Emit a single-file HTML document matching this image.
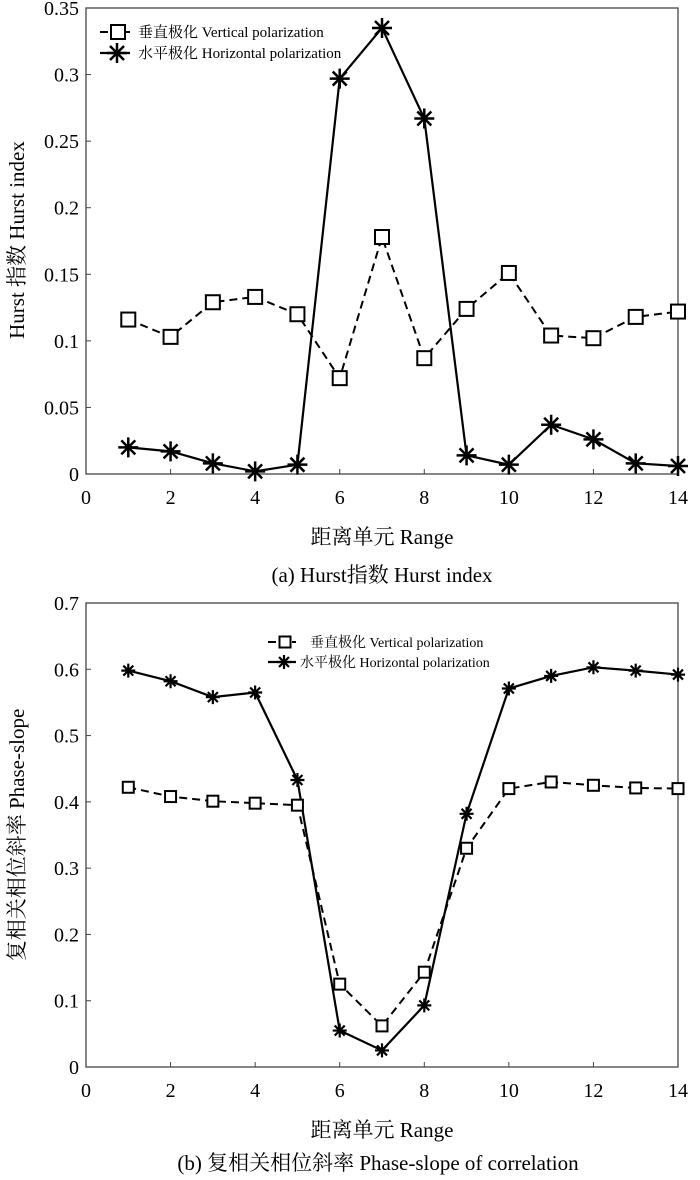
<!DOCTYPE html>
<html><head><meta charset="utf-8"><style>
body{margin:0;background:#fff}
text{font-family:"Liberation Serif","Noto Serif CJK SC",serif;fill:#000}
</style></head><body>
<svg width="700" height="1175" viewBox="0 0 700 1175" xmlns="http://www.w3.org/2000/svg">
<defs>
<g id="st"><path d="M-10 0H10M0-10V10M-7-7L7 7M-7 7L7-7" stroke="#000" stroke-width="2.5"/></g>
<g id="sts"><path d="M-7 0H7M0-7V7M-5-5L5 5M-5 5L5-5" stroke="#000" stroke-width="2.2"/></g>
</defs>
<g id="top"></g>
<g id="bot"></g>
<script>
(function(){
const NS="http://www.w3.org/2000/svg";
function el(p,t,a,txt){const e=document.createElementNS(NS,t);for(const k in a)e.setAttribute(k,a[k]);if(txt!==undefined)e.textContent=txt;p.appendChild(e);return e;}
const XL=86,XR=678;
function X(i){return XL+i*(XR-XL)/14;}
function chart(g,y0,y1,ymax,step,labels,v,h,big,ylab,ylabY,legX,legY,legFs){
  const Y=val=>y1-(val/ymax)*(y1-y0);
  el(g,'rect',{x:XL,y:y0,width:XR-XL,height:y1-y0,fill:'none',stroke:'#444','stroke-width':1.3});
  for(let i=0;i<=14;i+=2){el(g,'line',{x1:X(i),x2:X(i),y1:y1,y2:y1-5,stroke:'#444'});
    el(g,'text',{x:X(i),y:y1+30,'text-anchor':'middle','font-size':20},String(i));}
  labels.forEach((l,k)=>{const yy=Y(k*step);el(g,'line',{x1:XL,x2:XL+5,y1:yy,y2:yy,stroke:'#444'});
    el(g,'text',{x:79,y:yy+7,'text-anchor':'end','font-size':20},l);});
  const pv=v.map((a,i)=>X(i+1)+','+Y(a)).join(' ');
  const ph=h.map((a,i)=>X(i+1)+','+Y(a)).join(' ');
  el(g,'polyline',{points:pv,fill:'none',stroke:'#000','stroke-width':2,'stroke-dasharray':'8,5'});
  el(g,'polyline',{points:ph,fill:'none',stroke:'#000','stroke-width':2.2});
  const s=big?14:11;
  v.forEach((a,i)=>el(g,'rect',{x:X(i+1)-s/2,y:Y(a)-s/2,width:s,height:s,fill:'#fff',stroke:'#000','stroke-width':2}));
  h.forEach((a,i)=>el(g,'use',{href:big?'#st':'#sts',x:X(i+1),y:Y(a)}));
  el(g,'text',{x:382,y:y1+70,'text-anchor':'middle','font-size':21},'距离单元 Range');
  el(g,'text',{transform:`translate(24,${ylabY}) rotate(-90)`,'text-anchor':'middle','font-size':21},ylab);
  const lw=big?30:28;
  el(g,'line',{x1:legX,x2:legX+lw,y1:legY,y2:legY,stroke:'#000','stroke-width':2,'stroke-dasharray':'8,4'});
  el(g,'rect',{x:legX+lw/2-s/2+3,y:legY-s/2,width:s,height:s,fill:'#fff',stroke:'#000','stroke-width':2});
  el(g,'text',{x:legX+lw+(big?8:14),y:legY+5,'font-size':legFs},'垂直极化 Vertical polarization');
  const ly2=legY+(big?21:20);
  el(g,'line',{x1:legX,x2:legX+lw,y1:ly2,y2:ly2,stroke:'#000','stroke-width':2.2});
  el(g,'use',{href:big?'#st':'#sts',x:legX+lw/2+2,y:ly2});
  el(g,'text',{x:legX+lw+(big?8:4),y:ly2+5,'font-size':legFs},'水平极化 Horizontal polarization');
}
chart(document.getElementById('top'),8,474,0.35,0.05,['0','0.05','0.1','0.15','0.2','0.25','0.3','0.35'],
 [.116,.103,.129,.133,.120,.072,.178,.087,.124,.151,.104,.102,.118,.122],
 [.020,.017,.008,.002,.007,.297,.335,.267,.014,.007,.037,.026,.008,.006],true,'Hurst 指数 Hurst index',240,100,32,15);
chart(document.getElementById('bot'),603,1067,0.7,0.1,['0','0.1','0.2','0.3','0.4','0.5','0.6','0.7'],
 [.422,.408,.401,.398,.395,.125,.062,.143,.330,.420,.430,.425,.421,.420],
 [.598,.582,.558,.565,.433,.055,.025,.093,.382,.571,.590,.603,.598,.592],false,'复相关相位斜率 Phase-slope',835,268,642,14);
})();
</script>
<text x="382" y="582" text-anchor="middle" font-size="21">(a)  Hurst指数 Hurst index</text>
<text x="378" y="1170" text-anchor="middle" font-size="21">(b) 复相关相位斜率 Phase-slope of correlation</text>
</svg>
</body></html>
